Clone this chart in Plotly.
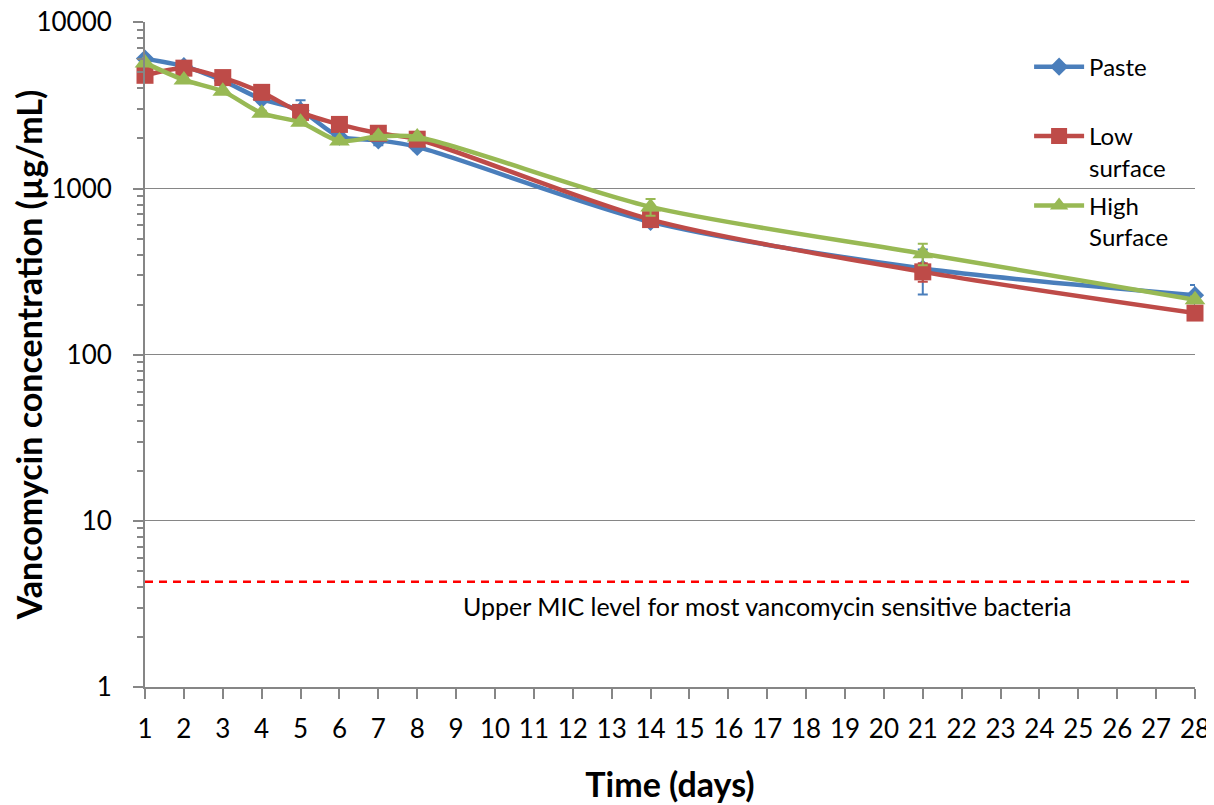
import plotly.graph_objects as go

DAYS = [1, 2, 3, 4, 5, 6, 7, 8, 14, 21, 28]
PASTE = [6050, 5450, 4450, 3450, 2950, 2050, 1950, 1780, 630, 330, 228]
PASTE_ERR = [250, 300, 120, 150, 450, 120, 130, 80, 40, 100, 35]
LOW = [4800, 5300, 4650, 3790, 2870, 2430, 2150, 1980, 650, 315, 178]
LOW_ERR = [100, 150, 100, 120, 100, 80, 60, 60, 30, 40, 10]
HIGH = [5700, 4500, 3850, 2840, 2500, 1930, 2060, 2040, 775, 405, 214]
HIGH_ERR = [100, 120, 80, 100, 80, 60, 60, 60, 90, 60, 10]
NAMES = ["Paste<br>\u00a0", "Low<br>surface", "High<br>Surface"]
MIC_X = [1, 28]
MIC_LEVEL = 4.3
MIC_LABEL = "Upper MIC level for most vancomycin sensitive bacteria"
X_TICKS = list(range(1, 29))
Y_TICKS = [1, 10, 100, 1000, 10000]

FONT = "Lato"
COLORS = ["#4A7EBB", "#BE4B48", "#98B954"]
SYMBOLS = ["diamond", "square", "triangle-up"]
SIZES = [14, 17, 18]

fig = go.Figure()
for i, (vals, errs) in enumerate([(PASTE, PASTE_ERR), (LOW, LOW_ERR), (HIGH, HIGH_ERR)]):
    fig.add_trace(go.Scatter(
        x=DAYS, y=vals, name=NAMES[i], mode="lines+markers",
        line=dict(color=COLORS[i], width=4.5, shape="spline", smoothing=0.8),
        marker=dict(symbol=SYMBOLS[i], size=SIZES[i], color=COLORS[i]),
        error_y=dict(type="data", array=errs, color=COLORS[i], thickness=2, width=5),
        cliponaxis=False, legendgroup=f"g{i}",
    ))

fig.add_trace(go.Scatter(
    x=MIC_X, y=[MIC_LEVEL, MIC_LEVEL], mode="lines", showlegend=False,
    line=dict(color="#FF0000", width=2.5, dash="8px,6px"), cliponaxis=False,
))

fig.add_annotation(x=17.0, y=0.487, yref="y", text=MIC_LABEL, showarrow=False,
                   font=dict(family=FONT, size=25, color="#000000"))

# the page body has an 8px margin, so the figure is shrunk and shifted by it
fig.update_layout(
    width=1206, height=797,
    margin=dict(l=137, r=19, t=14, b=118),
    paper_bgcolor="white", plot_bgcolor="white",
    font=dict(family=FONT, color="#000000"),
    showlegend=True,
    legend=dict(x=0.842, y=0.966, xanchor="left", yanchor="top",
                bgcolor="rgba(0,0,0,0)", font=dict(family=FONT, size=24),
                valign="top", traceorder="grouped", tracegroupgap=4,
                itemwidth=50),
)
fig.update_xaxes(
    range=[1, 28], tickvals=X_TICKS, ticktext=[str(t) for t in X_TICKS],
    showline=True, linecolor="#868686", linewidth=2,
    ticks="outside", ticklen=10, tickcolor="#868686", tickwidth=2,
    showgrid=False, zeroline=False, automargin=False, ticklabelstandoff=8,
    tickfont=dict(family=FONT, size=26),
    title=dict(text="<b>Time (days)</b>", font=dict(family=FONT, size=34), standoff=30),
)
fig.update_yaxes(
    type="log", range=[0, 4.002], tickvals=Y_TICKS, ticktext=[str(t) for t in Y_TICKS],
    showline=True, linecolor="#868686", linewidth=2,
    ticks="outside", ticklen=10, tickcolor="#868686", tickwidth=2,
    minor=dict(ticks="outside", ticklen=6, tickcolor="#868686", tickwidth=2, dtick="D1", showgrid=False),
    showgrid=True, gridcolor="#868686", gridwidth=1.3, zeroline=False,
    automargin=False, ticklabelstandoff=16, ticklabeloverflow="allow",
    tickfont=dict(family=FONT, size=26),
    title=dict(text="<b>Vancomycin concentration (µg/mL)</b>", font=dict(family=FONT, size=34), standoff=2),
)

fig.write_html("out.html")
